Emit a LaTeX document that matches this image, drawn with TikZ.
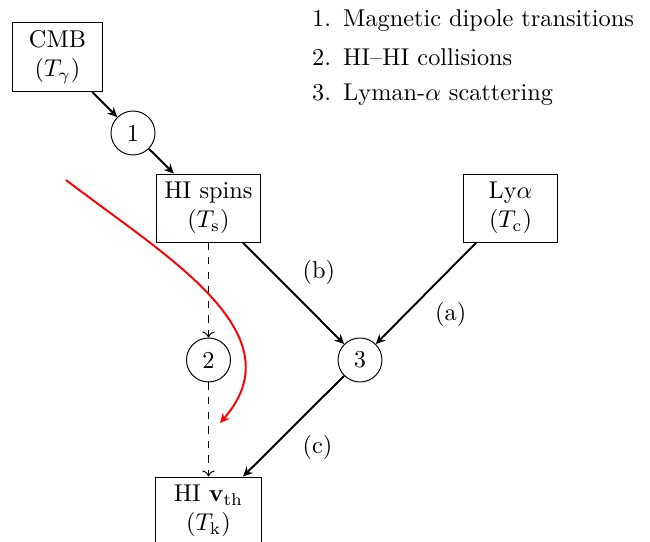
\documentclass[tikz,border=0pt]{standalone}
\usetikzlibrary{arrows.meta}
\begin{document}
\begin{tikzpicture}[x=0.4115pt,y=-0.4115pt,
  box/.style={draw,align=center,minimum height=27.2pt,inner sep=3.33pt},
  proc/.style={draw,circle,minimum size=18.1pt,inner sep=0pt},
  tip/.style={-{Stealth[length=4pt,width=3.8pt,inset=1.4pt]}},
  flow/.style={tip,thick},
  weak/.style={->,dashed},
  lab/.style={inner sep=3.33pt},
  item/.style={anchor=base west,inner sep=0pt}]
\useasboundingbox (0,0) rectangle (650,542);
\node[box,minimum width=37.4pt] (cmb) at (57.5,57) {CMB\\($T_\gamma$)};
\node[box] (spins) at (208.5,208) {HI spins\\($T_\mathrm{s}$)};
\node[box,minimum width=38.3pt] (lya) at (510.5,208) {Ly$\alpha$\\($T_\mathrm{c}$)};
\node[box,minimum width=44pt] (vth) at (208.5,511) {HI $\mathbf{v}_\mathrm{th}$\\($T_\mathrm{k}$)};
\node[proc] (p1) at (133,133) {1};
\node[proc] (p2) at (208.5,360) {2};
\node[proc] (p3) at (360,360) {3};
\draw[flow] (cmb) -- (p1);
\draw[flow] (p1) -- (spins);
\draw[flow] (spins) -- node[lab,above right] (lb) {(b)} (p3);
\draw[flow] (lya) -- node[lab,below right] (la) {(a)} (p3);
\draw[flow] (p3) -- node[lab,below right] (lc) {(c)} (vth);
\draw[weak] (spins) -- (p2);
\draw[weak] (p2) -- (vth);
\coordinate (rs) at (66,180);
\coordinate (re) at (220,423);
\draw[red,thick,tip] (rs) .. controls (165,256) and (299,333) .. (re);
\node[item] (l1) at (311.7,26) {\makebox[7.78pt][r]{1.}\hspace{5pt}Magnetic dipole transitions};
\node[item] (l2) at (311.7,65.5) {\makebox[7.78pt][r]{2.}\hspace{5pt}HI--HI collisions};
\node[item] (l3) at (311.7,100.5) {\makebox[7.78pt][r]{3.}\hspace{5pt}Lyman-$\alpha$ scattering};
\end{tikzpicture}
\end{document}
